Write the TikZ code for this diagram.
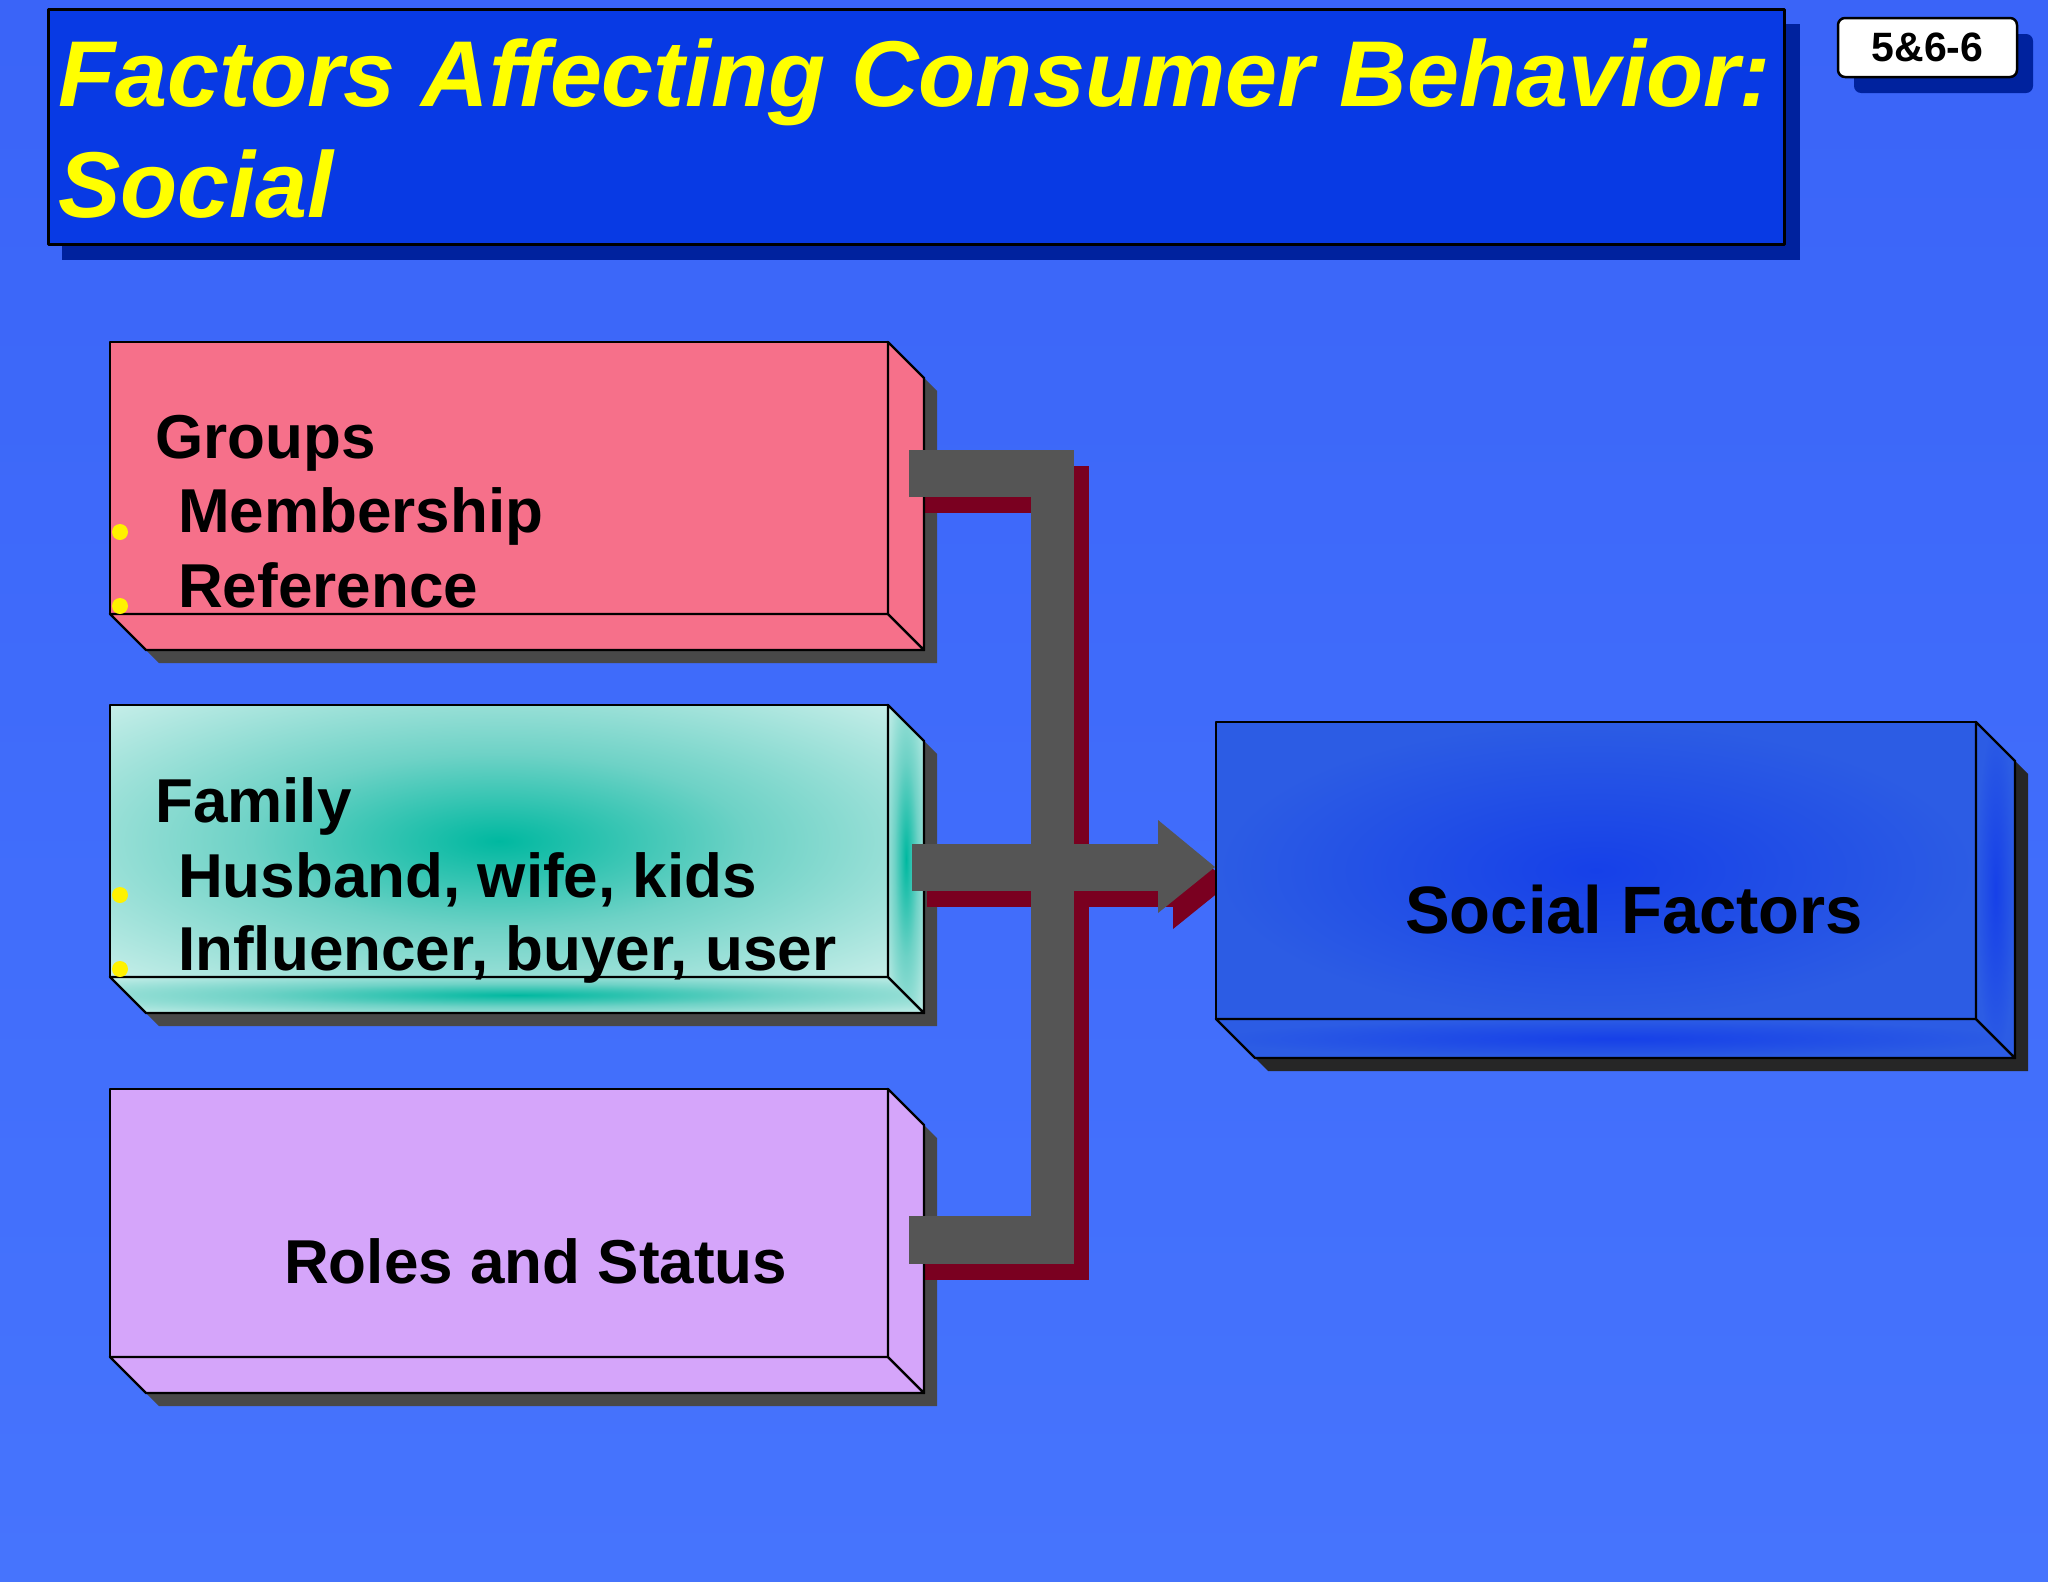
\documentclass[tikz,border=0pt]{standalone}
\usepackage{fontspec}
\setmainfont{Liberation Sans}
\usepackage{tikz}
\usetikzlibrary{calc}
\definecolor{bgtop}{RGB}{58,100,248}
\definecolor{bgbot}{RGB}{70,116,253}
\definecolor{titleblue}{RGB}{8,58,228}
\definecolor{titleshade}{RGB}{0,34,158}
\definecolor{titleyellow}{RGB}{255,255,0}
\definecolor{grouppink}{RGB}{246,112,138}
\definecolor{familyteal}{RGB}{0,184,160}
\definecolor{familymid}{RGB}{110,210,198}
\definecolor{familylight}{RGB}{236,250,248}
\definecolor{roleslilac}{RGB}{213,165,250}
\definecolor{socialblue}{RGB}{22,64,232}
\definecolor{socialedge}{RGB}{44,92,228}
\definecolor{bargray}{RGB}{85,85,85}
\definecolor{barred}{RGB}{122,0,32}
\definecolor{boxgray}{RGB}{72,72,72}
\definecolor{socialgray}{RGB}{38,38,38}
\pgfdeclareradialshading{familyshade}{\pgfpoint{0bp}{0bp}}{color(0bp)=(familyteal); color(16bp)=(familymid); color(44bp)=(familylight); color(70bp)=(familylight)}
\tikzstyle{every node}=[inner sep=0pt]
\tikzstyle{boxtext}=[anchor=base west, font=\fontsize{62}{62}\selectfont\bfseries]
\tikzstyle{bullet}=[fill=yellow]
% 3D block: top left, bottom right, depth, fill
\newcommand{\solidbox}[6]{%
  \path[#6, draw=black, line width=2.4] (#1,#2) rectangle (#3,#4);
  \path[#6, draw=black, line width=2.4] (#1,#4) -- (#3,#4) -- ({#3+#5},{#4+#5}) -- ({#1+#5},{#4+#5}) -- cycle;
  \path[#6, draw=black, line width=2.4] (#3,#2) -- ({#3+#5},{#2+#5}) -- ({#3+#5},{#4+#5}) -- (#3,#4) -- cycle;
}
\newcommand{\boxshade}[6]{%
  \fill[#6] ({#1+13},{#2+13}) -- ({#3+13},{#2+13}) -- ({#3+#5+13},{#2+#5+13}) -- ({#3+#5+13},{#4+#5+13}) -- ({#1+#5+13},{#4+#5+13}) -- ({#1+13},{#4+13}) -- cycle;
}
\newcommand{\busbar}[1]{%
  \fill[#1] (909,450) rectangle (1074,497);
  \fill[#1] (1031,450) rectangle (1074,1264);
  \fill[#1] (909,1216) rectangle (1074,1264);
  \fill[#1] (912,844) rectangle (1159,891);
  \fill[#1] (1158,820) -- (1215,867) -- (1158,913) -- cycle;
}

\begin{document}
\begin{tikzpicture}[line cap=round,line join=round,x=1pt,y=-1pt]
  \useasboundingbox (0,0) rectangle (2048,1582);
  \shade[top color=bgtop, bottom color=bgbot] (0,0) rectangle (2048,1582);
  % title
  \fill[titleshade] (62,24) rectangle (1800,260);
  \draw[fill=titleblue, line width=3] (48,9) rectangle (1784,244);
  \node[anchor=base west, text=titleyellow, font=\fontsize{93.5}{93.5}\selectfont\bfseries\itshape] (title1) at (58,106) {Factors Affecting Consumer Behavior:};
  \node[anchor=base west, text=titleyellow, font=\fontsize{93.5}{93.5}\selectfont\bfseries\itshape] (title2) at (58,217) {Social};
  \fill[titleshade, rounded corners=7] (1854,34) rectangle (2033,93);
  \node[draw, fill=white, line width=2.5, rounded corners=7, minimum width=179, minimum height=59, font=\fontsize{41}{41}\selectfont\bfseries] (tag) at (1927.5,47.5) {5\&6-6};
  % shadows
  \boxshade{110}{342}{888}{614}{36}{boxgray}
  \boxshade{110}{705}{888}{977}{36}{boxgray}
  \boxshade{110}{1089}{888}{1357}{36}{boxgray}
  \boxshade{1216}{722}{1976}{1019}{39}{socialgray}
  \begin{scope}[shift={(15,16)}]
    \busbar{barred}
  \end{scope}
  % blocks
  \solidbox{110}{342}{888}{614}{36}{fill=grouppink}
  \solidbox{110}{705}{888}{977}{36}{shading=familyshade}
  \solidbox{110}{1089}{888}{1357}{36}{fill=roleslilac}
  \solidbox{1216}{722}{1976}{1019}{39}{inner color=socialblue, outer color=socialedge}
  \busbar{bargray}
  % texts
  \node[boxtext] (groups) at (155,458) {Groups};
  \node[boxtext] (member) at (178,532) {Membership};
  \node[boxtext] (refer) at (178,607) {Reference};
  \fill[bullet] (120,532) circle (8);
  \fill[bullet] (120,606) circle (8);
  \node[boxtext] (family) at (155,822) {Family};
  \node[boxtext] (kin) at (178,897) {Husband, wife, kids};
  \node[boxtext] (buyer) at (178,970) {Influencer, buyer, user};
  \fill[bullet] (120,895) circle (8);
  \fill[bullet] (120,969) circle (8);
  \node[boxtext] (roles) at (284,1283) {Roles and Status};
  \node[boxtext, font=\fontsize{67}{67}\selectfont\bfseries] (social) at (1405,933) {Social Factors};
\end{tikzpicture}
\end{document}
